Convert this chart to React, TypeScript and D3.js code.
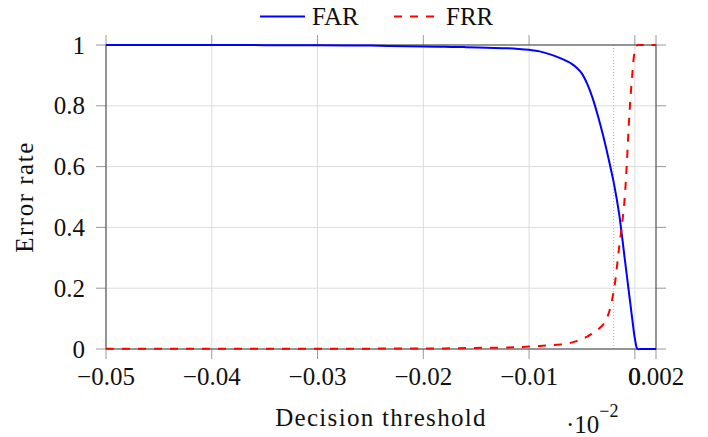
import React from "react";
import * as d3 from "d3";

const thresholds = [
  -0.05, -0.045, -0.04, -0.035, -0.03, -0.025, -0.02, -0.018, -0.016, -0.014,
  -0.012, -0.011, -0.01, -0.009, -0.008, -0.007, -0.006, -0.0055, -0.005,
  -0.0045, -0.004, -0.0035, -0.003, -0.0025, -0.002, -0.0015, -0.001, -0.0005,
  -0.00025, 0, 0.00025, 0.0005, 0.001, 0.0015, 0.002,
];
const farValues = [
  1.0, 1.0, 1.0, 0.9995, 0.999, 0.998, 0.995, 0.994, 0.993, 0.991,
  0.989, 0.987, 0.984, 0.979, 0.969, 0.956, 0.939, 0.925, 0.906,
  0.872, 0.826, 0.768, 0.702, 0.628, 0.548, 0.448, 0.31, 0.17,
  0.1, 0.035, 0.0, 0.0, 0.0, 0.0, 0.0,
];
const frrValues = [
  0.0005, 0.0005, 0.0005, 0.0008, 0.001, 0.0012, 0.002, 0.002, 0.003, 0.004,
  0.005, 0.006, 0.008, 0.01, 0.012, 0.015, 0.021, 0.026, 0.033,
  0.041, 0.052, 0.064, 0.08, 0.115, 0.19, 0.33, 0.48, 0.78,
  0.9, 0.98, 1.0, 1.0, 1.0, 1.0, 1.0,
];
const xTicks = [-0.05, -0.04, -0.03, -0.02, -0.01, 0, 0.002];
const xTickLabels = ["−0.05", "−0.04", "−0.03", "−0.02", "−0.01", "0", "0.002"];
const yTicks = [0, 0.2, 0.4, 0.6, 0.8, 1];
const yTickLabels = ["0", "0.2", "0.4", "0.6", "0.8", "1"];
const eerThreshold = -0.002;
const seriesNames = ["FAR", "FRR"];

const W = 708;
const H = 437;
const L = 106, R = 656, T = 45, B = 349;
const FONT = '"Liberation Serif", "DejaVu Serif", serif';

export default function App() {
  const x = d3.scaleLinear().domain([-0.05, 0.002]).range([L, R]);
  const y = d3.scaleLinear().domain([0, 1]).range([B, T]);
  const line = (vals: number[]) =>
    d3
      .line<number>()
      .x((_, i) => x(thresholds[i]))
      .y((v) => y(v))
      .curve(d3.curveCatmullRom.alpha(0.5))(vals) || "";
  const tickLen = 10;
  const txt = { fontFamily: FONT, fill: "#111" } as React.CSSProperties;
  return (
    <svg
      width={W}
      height={H}
      viewBox={`0 0 ${W} ${H}`}
      style={{ position: "absolute", left: 0, top: 0, background: "#fff", fontFamily: FONT }}
    >
      {xTicks.map((t, i) => (
        <line key={"gx" + i} x1={x(t)} x2={x(t)} y1={T} y2={B} stroke="#dcdcdc" strokeWidth={1} />
      ))}
      {yTicks.map((t, i) => (
        <line key={"gy" + i} x1={L} x2={R} y1={y(t)} y2={y(t)} stroke="#dcdcdc" strokeWidth={1} />
      ))}
      <line x1={x(eerThreshold)} x2={x(eerThreshold)} y1={T} y2={B} stroke="#b0b0b0" strokeWidth={1} strokeDasharray="1 2" />
      {xTicks.map((t, i) => (
        <g key={"tx" + i}>
          <line x1={x(t)} x2={x(t)} y1={B} y2={B + tickLen} stroke="#999" strokeWidth={1} />
          <line x1={x(t)} x2={x(t)} y1={T} y2={T - tickLen} stroke="#999" strokeWidth={1} />
        </g>
      ))}
      {yTicks.map((t, i) => (
        <g key={"ty" + i}>
          <line x1={L - tickLen} x2={L} y1={y(t)} y2={y(t)} stroke="#999" strokeWidth={1} />
          <line x1={R} x2={R + tickLen} y1={y(t)} y2={y(t)} stroke="#999" strokeWidth={1} />
        </g>
      ))}
      <rect x={L} y={T} width={R - L} height={B - T} fill="none" stroke="#5a5a5a" strokeWidth={1.2} />
      <path d={line(farValues)} fill="none" stroke="#0000ff" strokeWidth={2} />
      <path d={line(frrValues)} fill="none" stroke="#ff0000" strokeWidth={2} strokeDasharray="8 8" />
      {xTicks.map((t, i) => (
        <text key={"lx" + i} x={x(t)} y={385} textAnchor="middle" fontSize={25} style={txt}>
          {xTickLabels[i]}
        </text>
      ))}
      {yTicks.map((t, i) => (
        <text key={"ly" + i} x={85} y={y(t) + 8.5} textAnchor="end" fontSize={25} style={txt}>
          {yTickLabels[i]}
        </text>
      ))}
      <text x={381} y={426} textAnchor="middle" fontSize={25} letterSpacing={1.3} style={txt}>
        Decision threshold
      </text>
      <text transform="translate(33,197) rotate(-90)" textAnchor="middle" fontSize={25} letterSpacing={1.5} style={txt}>
        Error rate
      </text>
      <text x={566} y={433} fontSize={25} style={txt}>
        ·10
        <tspan dy={-16} fontSize={18}>−2</tspan>
      </text>
      <line x1={260} x2={305} y1={16.5} y2={16.5} stroke="#0000ff" strokeWidth={2} />
      <text x={312} y={25} fontSize={25} style={txt}>{seriesNames[0]}</text>
      <line x1={394} x2={434} y1={16.5} y2={16.5} stroke="#ff0000" strokeWidth={2} strokeDasharray="8 8" />
      <text x={446} y={25} fontSize={25} style={txt}>{seriesNames[1]}</text>
    </svg>
  );
}
